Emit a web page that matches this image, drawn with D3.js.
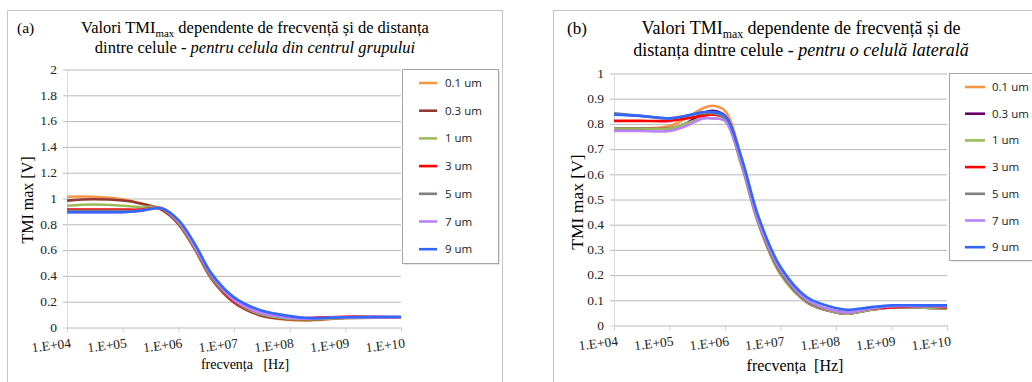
<!DOCTYPE html>
<html>
<head>
<meta charset="utf-8">
<script src="https://cdn.jsdelivr.net/npm/d3@7/dist/d3.min.js"></script>
<style>
body { margin: 0; background: #fff; }
svg { display: block; }
text { white-space: pre; }
</style>
</head>
<body>
<div id="chart"></div>
<script>
// ---- data ----------------------------------------------------------
var seriesNames = ["0.1 um", "0.3 um", "1 um", "3 um", "5 um", "7 um", "9 um"];
var colorsA = ["#f79646", "#953735", "#9bbb59", "#ff0000", "#7f7f7f", "#b983ff", "#3366ff"];
var colorsB = ["#f79646", "#660066", "#9bbb59", "#ff0000", "#7f7f7f", "#b983ff", "#3366ff"];

var xTicks = [1e4, 1e5, 1e6, 1e7, 1e8, 1e9, 1e10];
var xTickLabels = ["1.E+04", "1.E+05", "1.E+06", "1.E+07", "1.E+08", "1.E+09", "1.E+10"];
var yTicksA = [0, 0.2, 0.4, 0.6, 0.8, 1, 1.2, 1.4, 1.6, 1.8, 2];
var yTicksB = [0, 0.1, 0.2, 0.3, 0.4, 0.5, 0.6, 0.7, 0.8, 0.9, 1];

// (a) cell in the centre of the group
var freqA = [1e4, 3e4, 1e5, 2e5, 5e5, 1e6, 2e6, 4e6, 1e7, 3e7, 1e8, 2e8, 1e9, 1e10];
var tmiA_01 = [1.01, 1.01, 0.99, 0.96, 0.91, 0.80, 0.60, 0.37, 0.19, 0.09, 0.055, 0.05, 0.07, 0.075];
var tmiA_03 = [0.98, 0.99, 0.98, 0.96, 0.91, 0.80, 0.60, 0.37, 0.19, 0.09, 0.06, 0.055, 0.07, 0.075];
var tmiA_1  = [0.94, 0.95, 0.94, 0.93, 0.92, 0.81, 0.61, 0.38, 0.20, 0.10, 0.065, 0.06, 0.07, 0.075];
var tmiA_3  = [0.91, 0.91, 0.91, 0.91, 0.92, 0.82, 0.62, 0.39, 0.20, 0.11, 0.075, 0.07, 0.08, 0.075];
var tmiA_5  = [0.90, 0.90, 0.90, 0.90, 0.92, 0.82, 0.62, 0.39, 0.21, 0.11, 0.07, 0.065, 0.075, 0.075];
var tmiA_7  = [0.89, 0.89, 0.89, 0.90, 0.92, 0.82, 0.62, 0.40, 0.21, 0.11, 0.07, 0.065, 0.075, 0.075];
var tmiA_9  = [0.89, 0.89, 0.89, 0.90, 0.92, 0.83, 0.64, 0.41, 0.23, 0.13, 0.085, 0.07, 0.075, 0.08];

// (b) lateral cell
var freqB = [1e4, 3e4, 1e5, 2e5, 4e5, 6e5, 1e6, 2e6, 4e6, 1e7, 3e7, 1e8, 1.6e8, 4e8, 1e9, 3e9, 1e10];
var tmiB_01 = [0.78, 0.78, 0.79, 0.82, 0.86, 0.87, 0.85, 0.66, 0.42, 0.21, 0.09, 0.05, 0.045, 0.06, 0.07, 0.07, 0.065];
var tmiB_03 = [0.78, 0.78, 0.78, 0.80, 0.84, 0.85, 0.83, 0.65, 0.41, 0.21, 0.09, 0.05, 0.045, 0.06, 0.07, 0.07, 0.065];
var tmiB_1  = [0.78, 0.78, 0.78, 0.80, 0.82, 0.82, 0.81, 0.63, 0.40, 0.20, 0.09, 0.05, 0.045, 0.06, 0.07, 0.07, 0.065];
var tmiB_3  = [0.81, 0.81, 0.81, 0.82, 0.83, 0.835, 0.82, 0.64, 0.41, 0.21, 0.095, 0.055, 0.05, 0.065, 0.07, 0.075, 0.07];
var tmiB_5  = [0.84, 0.83, 0.82, 0.83, 0.84, 0.84, 0.82, 0.64, 0.41, 0.21, 0.095, 0.055, 0.05, 0.065, 0.075, 0.075, 0.075];
var tmiB_7  = [0.77, 0.77, 0.77, 0.79, 0.82, 0.82, 0.81, 0.64, 0.41, 0.22, 0.10, 0.055, 0.05, 0.065, 0.075, 0.075, 0.075];
var tmiB_9  = [0.835, 0.83, 0.82, 0.83, 0.845, 0.845, 0.83, 0.66, 0.43, 0.23, 0.11, 0.067, 0.06, 0.07, 0.078, 0.078, 0.078];

var SERIF = "'Liberation Serif', 'Times New Roman', serif";
var SANS = "'Open Sans', 'Liberation Sans', sans-serif";

var svg = d3.select("#chart").append("svg")
    .attr("width", 1032)
    .attr("height", 382);

/**
*   drawPanel     one framed chart: title, grid, axes, curves and legend
*   @param cfg    layout of the panel (positions only)
*   @param freq   x values of the curves
*   @param series array of y arrays, one per distance
*   @param colors line colours in series order
*   @param yTicks y tick values (last one is the max)
*/
function drawPanel(cfg, freq, series, colors, yTicks)
{
    var g = svg.append("g");

    // outer frame
    g.append("rect")
        .attr("x", cfg.frame[0] + 0.5).attr("y", cfg.frame[1] + 0.5)
        .attr("width", cfg.frame[2]).attr("height", cfg.frame[3])
        .style("fill", "#fff").style("stroke", "#c4c4c4");

    var x = d3.scaleLog()
        .domain([xTicks[0], xTicks[xTicks.length - 1]])
        .range([cfg.left, cfg.right]);
    var y = d3.scaleLinear()
        .domain([0, yTicks[yTicks.length - 1]])
        .range([cfg.bottom, cfg.top]);

    // horizontal grid + y tick labels
    var yAxis = d3.axisLeft(y)
        .tickValues(yTicks)
        .tickFormat(d3.format("~g"))
        .tickSize(-(cfg.right - cfg.left + 4))
        .tickPadding(6);
    var ya = g.append("g")
        .attr("transform", "translate(" + (cfg.left - 4) + ",0)")
        .call(yAxis);
    ya.select(".domain").remove();
    ya.selectAll(".tick line")
        .attr("x1", 0)
        .style("stroke", function(d) { return d === 0 ? "#d0d0d0" : "#b8b8b8"; })
        .attr("transform", "translate(0,0.5)");
    ya.selectAll(".tick text")
        .style("font-family", SERIF).style("font-size", "13.5px").style("fill", "#222");

    // y axis line
    g.append("line")
        .attr("x1", cfg.left + 0.5).attr("x2", cfg.left + 0.5)
        .attr("y1", cfg.top).attr("y2", cfg.bottom)
        .style("stroke", "#d9d9d9");

    // x axis
    var xAxis = d3.axisBottom(x)
        .tickValues(xTicks)
        .tickFormat(function(d, i) { return xTickLabels[i]; })
        .tickSize(5)
        .tickSizeOuter(0);
    var xa = g.append("g")
        .attr("transform", "translate(0," + (cfg.bottom + 0.5) + ")")
        .call(xAxis);
    xa.select(".domain").style("stroke", "#d0d0d0");
    xa.selectAll(".tick line").style("stroke", "#d0d0d0");
    xa.selectAll(".tick text")
        .attr("y", 0).attr("dy", 0)
        .attr("text-anchor", "end")
        .attr("transform", "translate(4,20) rotate(-7)")
        .style("font-family", SERIF).style("font-size", "13.5px").style("fill", "#222");

    // curves
    var line = d3.line()
        .x(function(d) { return x(d[0]); })
        .y(function(d) { return y(d[1]); })
        .curve(d3.curveCatmullRom.alpha(0.5));

    series.forEach(function(vals, i) {
        var pts = vals.map(function(v, j) { return [freq[j], v]; });
        g.append("path")
            .datum(pts)
            .attr("d", line)
            .style("fill", "none")
            .style("stroke", colors[i])
            .style("stroke-width", 2.6)
            .style("stroke-linejoin", "round");
    });

    // legend
    var L = cfg.legend;
    g.append("rect")
        .attr("x", L.x + 2).attr("y", L.y + 2)
        .attr("width", L.w).attr("height", L.h)
        .style("fill", "#e6e6e6");
    g.append("rect")
        .attr("x", L.x + 0.5).attr("y", L.y + 0.5)
        .attr("width", L.w).attr("height", L.h)
        .style("fill", "#fff").style("stroke", "#a6a6a6");
    var item = g.selectAll(".leg")
        .data(seriesNames)
      .enter().append("g")
        .attr("class", "leg")
        .attr("transform", function(d, i) { return "translate(0," + (L.row0 + i * L.step) + ")"; });
    item.append("line")
        .attr("x1", L.line0).attr("x2", L.line1)
        .style("stroke", function(d, i) { return colors[i]; })
        .style("stroke-width", 2.6);
    item.append("text")
        .attr("x", L.text).attr("dy", "0.35em")
        .text(function(d) { return d; })
        .style("font-family", SANS).style("font-size", "11.5px").style("fill", "#222");

    // title
    var T = cfg.title;
    g.append("text")
        .attr("x", T.tagX).attr("y", T.y1)
        .text(T.tag)
        .style("font-family", SERIF).style("font-size", (T.size - 1) + "px");
    var t1 = g.append("text")
        .attr("x", T.cx).attr("y", T.y1)
        .attr("text-anchor", "middle")
        .style("font-family", SERIF).style("font-size", T.size + "px");
    t1.append("tspan").text("Valori TMI");
    t1.append("tspan").text("max").attr("dy", 4).style("font-size", (T.size * 0.66) + "px");
    t1.append("tspan").text(" " + T.line1).attr("dy", -4);
    var t2 = g.append("text")
        .attr("x", T.cx).attr("y", T.y2)
        .attr("text-anchor", "middle")
        .style("font-family", SERIF).style("font-size", T.size + "px");
    t2.append("tspan").text(T.line2);
    t2.append("tspan").text(T.italic).style("font-style", "italic");

    // axis titles
    g.append("text")
        .attr("transform", "translate(" + cfg.yLabel[0] + "," + cfg.yLabel[1] + ") rotate(-90)")
        .attr("text-anchor", "middle")
        .text("TMI max [V]")
        .style("font-family", SERIF).style("font-size", cfg.yLabelSize + "px");
    g.append("text")
        .attr("x", cfg.xLabel[0]).attr("y", cfg.xLabel[1])
        .attr("text-anchor", "middle")
        .text(cfg.xLabelText)
        .style("font-family", SERIF).style("font-size", cfg.xLabelSize + "px");
}

// Starts here
drawPanel({
    frame: [7, 10, 495, 390],
    left: 67, right: 401, top: 69, bottom: 327,
    legend: { x: 402, y: 69, w: 96, h: 194, row0: 83, step: 27.7, line0: 419, line1: 437, text: 445 },
    title: { tag: "(a)", tagX: 17, cx: 255, y1: 33, y2: 53, size: 16.5,
             line1: "dependente de frecvență și de distanța",
             line2: "dintre celule - ", italic: "pentru celula din centrul grupului" },
    yLabel: [33, 200], xLabel: [245, 369], yLabelSize: 16, xLabelSize: 14,
    xLabelText: "frecvența   [Hz]"
}, freqA, [tmiA_01, tmiA_03, tmiA_1, tmiA_3, tmiA_5, tmiA_7, tmiA_9], colorsA, yTicksA);

drawPanel({
    frame: [553, 10, 495, 390],
    left: 614, right: 947, top: 73, bottom: 325,
    legend: { x: 949, y: 73, w: 96, h: 187, row0: 87, step: 26.7, line0: 965, line1: 985, text: 992 },
    title: { tag: "(b)", tagX: 567, cx: 801, y1: 34, y2: 56, size: 18,
             line1: "dependente de frecvență și de",
             line2: "distanța dintre celule - ", italic: "pentru o celulă laterală" },
    yLabel: [583, 202], xLabel: [795, 371], yLabelSize: 17.5, xLabelSize: 16,
    xLabelText: "frecvența  [Hz]"
}, freqB, [tmiB_01, tmiB_03, tmiB_1, tmiB_3, tmiB_5, tmiB_7, tmiB_9], colorsB, yTicksB);
</script>
</body>
</html>
